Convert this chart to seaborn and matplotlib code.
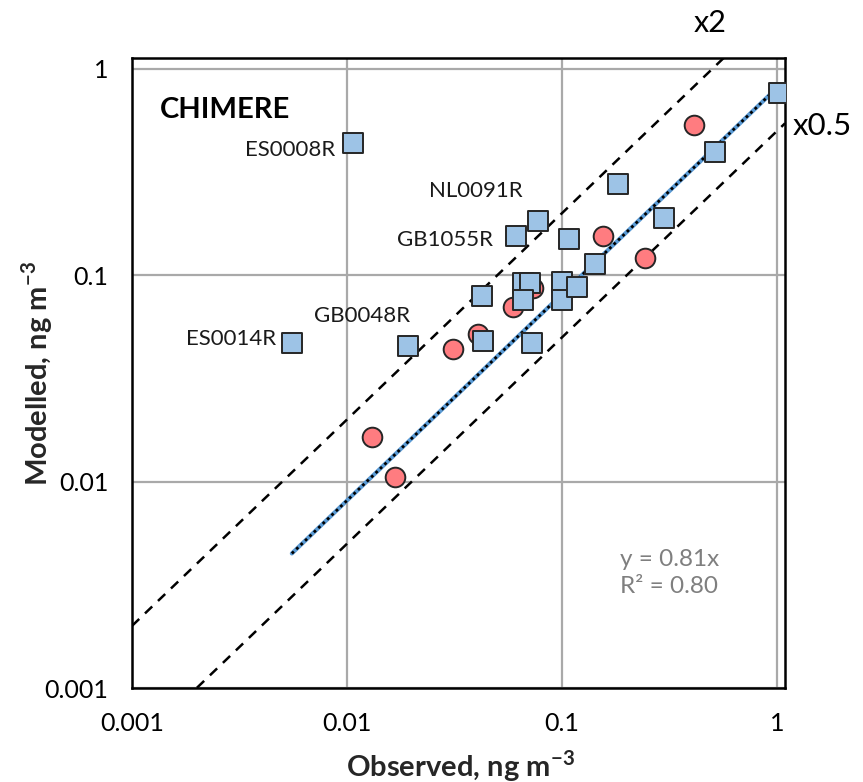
import numpy as np
import pandas as pd
import matplotlib
matplotlib.use("Agg")
import matplotlib.pyplot as plt
import seaborn as sns

# ---------------- data ----------------
square_obs = [0.0107, 0.00554, 0.0192, 0.0425, 0.0430, 0.0611, 0.0773, 0.108, 0.0659, 0.0710,
              0.0659, 0.100, 0.100, 0.1175, 0.0724, 0.142, 0.182, 0.298, 0.515, 1.02]
square_mod = [0.438, 0.0468, 0.0452, 0.0791, 0.0483, 0.1545, 0.183, 0.150, 0.0914, 0.0920,
              0.0757, 0.0925, 0.0763, 0.0875, 0.0468, 0.114, 0.277, 0.189, 0.395, 0.764]
circle_obs = [0.01306, 0.0167, 0.0311, 0.0406, 0.0592, 0.0733, 0.155, 0.243, 0.411]
circle_mod = [0.0164, 0.01057, 0.0437, 0.0522, 0.070, 0.0865, 0.1545, 0.121, 0.535]

station_labels = ["ES0008R", "ES0014R", "GB0048R", "GB1055R", "NL0091R"]
station_obs = [0.0107, 0.00554, 0.0192, 0.0611, 0.0773]
station_mod = [0.438, 0.0468, 0.0452, 0.1545, 0.183]

slope = 0.81
r2 = 0.80
ref_factors = [2, 0.5]
ref_labels = ["x2", "x0.5"]
tick_vals = [0.001, 0.01, 0.1, 1]
tick_labels = ["0.001", "0.01", "0.1", "1"]
model_name = "CHIMERE"

# ---------------- style ----------------
sns.set_style("white")
plt.rcParams['font.family'] = ['Lato', 'DejaVu Sans']
plt.rcParams['mathtext.fontset'] = 'custom'
plt.rcParams['mathtext.rm'] = 'Lato'
plt.rcParams['mathtext.bf'] = 'Lato:bold'

W, H = 863, 782
fig = plt.figure(figsize=(W / 100, H / 100), dpi=100)
L, R, T, B = 132, 785, 58, 688
ax = fig.add_axes([L / W, 1 - B / H, (R - L) / W, (B - T) / H])

xmin, xmax = 0.001, 1.09
ymin, ymax = 0.001, 1.13
ax.set_xscale("log")
ax.set_yscale("log")
ax.set_xlim(xmin, xmax)
ax.set_ylim(ymin, ymax)

# grid
ax.set_xticks(tick_vals)
ax.set_xticklabels(tick_labels)
ax.set_yticks(tick_vals)
ax.set_yticklabels(tick_labels)
ax.xaxis.set_minor_locator(matplotlib.ticker.NullLocator())
ax.yaxis.set_minor_locator(matplotlib.ticker.NullLocator())
ax.grid(True, which="major", color="#A9A9A9", linewidth=1.6)
ax.set_axisbelow(True)
ax.tick_params(length=0, pad=17, labelsize=18, colors="black")
for s in ax.spines.values():
    s.set_color("black")
    s.set_linewidth(1.8)
    s.set_visible(True)

# reference lines x2 and x0.5
ref_x = np.array([xmin, xmax])
for f in ref_factors:
    sns.lineplot(x=ref_x, y=f * ref_x, ax=ax, color="black", linewidth=1.8,
                 linestyle=(0, (4, 3.2)), zorder=2, legend=False)

# trendline through all data
all_obs = np.array(square_obs + circle_obs)
tx = np.array([all_obs.min(), all_obs.max()])
sns.lineplot(x=tx, y=slope * tx, ax=ax, color="#5B9BD5", linewidth=3.0, zorder=2.5, legend=False)
sns.lineplot(x=tx, y=slope * tx, ax=ax, color="black", linewidth=2.0, linestyle=(0, (1, 1.2)),
             zorder=2.6, legend=False)

# points
df_c = pd.DataFrame({"obs": circle_obs, "mod": circle_mod})
df_s = pd.DataFrame({"obs": square_obs, "mod": square_mod})
sns.scatterplot(data=df_c, x="obs", y="mod", ax=ax, marker="o", s=200, color="#FF7C80",
                edgecolor="#262626", linewidth=1.4, zorder=3, legend=False)
sns.scatterplot(data=df_s, x="obs", y="mod", ax=ax, marker="s", s=200, color="#9DC3E6",
                edgecolor="#262626", linewidth=1.4, zorder=4, legend=False)

ax.set_xlabel("")
ax.set_ylabel("")

# station annotations (offsets in points)
offsets = [(-13, -5, "right"), (-11, 3, "right"), (1.5, 22, "right"), (-16.5, -3, "right"), (-11, 22, "right")]
for lab, xo, yo, (dx, dy, ha) in zip(station_labels, station_obs, station_mod, offsets):
    ax.annotate(lab, (xo, yo), xytext=(dx, dy), textcoords="offset points",
                ha=ha, va="center", fontsize=16, color="#1a1a1a", zorder=5)

# model name
ax.text(0.043, 0.917, model_name, transform=ax.transAxes, fontsize=21, fontweight="bold",
        ha="left", va="center", color="black")

# equation
ax.text(620 / W, 1 - 573 / H, f"y = {slope:.2f}x\nR\u00b2 = {r2:.2f}", transform=fig.transFigure,
        fontsize=17.5, color="#7F7F7F", ha="left", va="center", linespacing=1.4)

# x2 / x0.5 labels
fig.text(710 / W, 1 - 23 / H, ref_labels[0], fontsize=22, ha="center", va="center", color="black")
fig.text(793 / W, 1 - 126 / H, ref_labels[1], fontsize=22.5, ha="left", va="center", color="black")

# axis titles
fig.text(460 / W, 1 - 766 / H, r"Observed, ng m$^{\mathbf{-3}}$", fontsize=21, fontweight="bold",
         ha="center", va="center")
fig.text(37 / W, 1 - 373 / H, r"Modelled, ng m$^{\mathbf{-3}}$", fontsize=21, fontweight="bold",
         ha="center", va="center", rotation=90)

fig.savefig("out.png", dpi=100)
